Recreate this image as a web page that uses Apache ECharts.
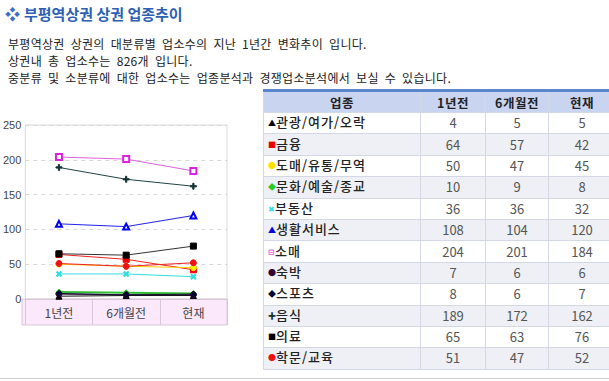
<!DOCTYPE html>
<html>
<head>
<meta charset="utf-8">
<script src="https://cdn.jsdelivr.net/npm/echarts@6/dist/echarts.min.js"></script>
<style>
  html, body { margin:0; padding:0; width:609px; height:381px; overflow:hidden; background:#fff;
    font-family:"Noto Sans CJK KR", "Noto Sans", sans-serif; }
  #title { position:absolute; left:5px; top:3px; font-size:15px; font-weight:bold; color:#2d5fb5; white-space:nowrap; }
  #title .dia { color:#3a6fc8; font-size:15px; margin-right:4px; }
  .desc { position:absolute; left:8px; font-size:12px; color:#222; white-space:nowrap; line-height:14px;
    letter-spacing:0.3px; word-spacing:3px; }
  #chart { position:absolute; left:0; top:100px; width:262px; height:240px; }
  #tbl { position:absolute; left:263px; top:89px; width:352px; border-collapse:collapse; table-layout:fixed;
    border-top:3px solid #5b87cf; font-size:13px; }
  #tbl th { background:#c9d4f0; height:20px; font-weight:bold; color:#222; font-size:12.5px; border:1px solid #d3d8e4; border-top:none; padding:0; letter-spacing:0.5px; }
  #tbl td { height:20.4px; border:1px solid #d3d8e4; padding:0; color:#555; text-align:center; line-height:18px; }
  #tbl td.nm { text-align:left; color:#222; padding-left:4px; white-space:nowrap; letter-spacing:1px; font-weight:500; }
  #tbl tr.alt td { background:#eef0f6; }
  #tbl .ic { font-size:8px; margin-right:0px; letter-spacing:0; position:relative; top:-1px; }
  #bottomline { position:absolute; left:0; top:378px; width:609px; height:1px; background:#cfcfcf; }
</style>
</head>
<body>
<div id="title"><span class="dia">❖</span>부평역상권 상권 업종추이</div>
<div class="desc" style="top:37px">부평역상권 상권의 대분류별 업소수의 지난 1년간 변화추이 입니다.</div>
<div class="desc" style="top:54px">상권내 총 업소수는 826개 입니다.</div>
<div class="desc" style="top:71px">중분류 및 소분류에 대한 업소수는 업종분석과 경쟁업소분석에서 보실 수 있습니다.</div>
<div id="chart"></div>
<table id="tbl">
  <colgroup><col style="width:157px"><col style="width:65px"><col style="width:63px"><col style="width:67px"></colgroup>
  <thead><tr id="hdr"></tr></thead>
  <tbody id="tb"></tbody>
</table>
<div id="bottomline"></div>
<script>
// ---- data ----
const periods = ['1년전', '6개월전', '현재'];
const headerLabels = ['업종', '1년전', '6개월전', '현재'];
const yTicks = [0, 50, 100, 150, 200, 250];
const categories = ['관광/여가/오락', '금융', '도매/유통/무역', '문화/예술/종교', '부동산', '생활서비스', '소매', '숙박', '스포츠', '음식', '의료', '학문/교육'];
const vTourism   = [4, 5, 5];
const vFinance   = [64, 57, 42];
const vWholesale = [50, 47, 45];
const vCulture   = [10, 9, 8];
const vRealty    = [36, 36, 32];
const vLiving    = [108, 104, 120];
const vRetail    = [204, 201, 184];
const vLodging   = [7, 6, 6];
const vSports    = [8, 6, 7];
const vFood      = [189, 172, 162];
const vMedical   = [65, 63, 76];
const vEducation = [51, 47, 52];
const seriesValues = [vTourism, vFinance, vWholesale, vCulture, vRealty, vLiving, vRetail, vLodging, vSports, vFood, vMedical, vEducation];

// ---- styles ----
const plusPath = 'path://M4,0H6V4H10V6H6V10H4V6H0V4H4Z';
const styles = [
  { line:'#111111', sym:'triangle', fill:'#000000', icon:'▲', ic:'#000' },
  { line:'#ee2222', sym:'rect', fill:'#ee0000', icon:'■', ic:'#e00' },
  { line:'#ffcc00', sym:'circle', fill:'#ffee00', icon:'●', ic:'#ffe000' },
  { line:'#33bb33', sym:'diamond', fill:'#22cc22', icon:'◆', ic:'#2c2', w:2 },
  { line:'#33dddd', sym:plusPath, rot:45, fill:'#33dddd', icon:'✖', ic:'#3dd' },
  { line:'#2222ee', sym:'emptyTriangle', fill:'#0000ee', icon:'▲', ic:'#00d' },
  { line:'#e060e0', sym:'emptyRect', fill:'#dd22dd', icon:'⊟', ic:'#d2d' },
  { line:'#331133', sym:'circle', fill:'#330033', icon:'●', ic:'#303' },
  { line:'#111133', sym:'diamond', fill:'#000033', icon:'◆', ic:'#003' },
  { line:'#224444', sym:plusPath, fill:'#113333', icon:'✚', ic:'#133' },
  { line:'#333333', sym:'rect', fill:'#000000', icon:'■', ic:'#000' },
  { line:'#ee2222', sym:'circle', fill:'#ee1111', icon:'●', ic:'#e11' }
];

// ---- table ----
const hdr = document.getElementById('hdr');
headerLabels.forEach(h => { const th = document.createElement('th'); th.textContent = h; hdr.appendChild(th); });
const tb = document.getElementById('tb');
categories.forEach((c, i) => {
  const tr = document.createElement('tr');
  if (i % 2 === 1) tr.className = 'alt';
  const td = document.createElement('td'); td.className = 'nm';
  td.innerHTML = '<span class="ic" style="color:' + styles[i].ic + '">' + styles[i].icon + '</span>' + c;
  tr.appendChild(td);
  seriesValues[i].forEach(v => { const d = document.createElement('td'); d.textContent = v; tr.appendChild(d); });
  tb.appendChild(tr);
});

// ---- chart ----
const gridL = 22, gridT = 25, gridW = 205, gridH = 174, bandH = 26;
const chart = echarts.init(document.getElementById('chart'), null, { renderer: 'svg' });
chart.setOption({
  animation: false,
  grid: { left: gridL, top: gridT, width: gridW, height: gridH, show: true, borderColor: '#d8d8d8', borderWidth: 1 },
  graphic: [{ type: 'rect', z: -1, shape: { x: gridL, y: gridT + gridH, width: gridW, height: bandH },
              style: { fill: '#fbe9fb', stroke: '#d9c6d9', lineWidth: 1 } }],
  xAxis: {
    type: 'category', data: periods, boundaryGap: true,
    axisLine: { show: true, lineStyle: { color: '#d9c6d9' } },
    axisTick: { show: true, length: bandH, interval: 0, lineStyle: { color: '#d9c6d9' } },
    axisLabel: { color: '#444', fontSize: 12, margin: 7, fontFamily: 'Noto Sans CJK KR' },
    splitLine: { show: false }
  },
  yAxis: {
    type: 'value', min: yTicks[0], max: yTicks[yTicks.length - 1], interval: 50,
    axisLine: { show: false }, axisTick: { show: false },
    axisLabel: { color: '#444', fontSize: 11, margin: 4, fontFamily: 'Liberation Sans' },
    splitLine: { show: true, lineStyle: { color: '#d8d8d8', type: [4, 4] } }
  },
  series: categories.map((c, i) => ({
    name: c, type: 'line', data: seriesValues[i],
    symbol: styles[i].sym, symbolSize: 6, symbolRotate: styles[i].rot || 0,
    showAllSymbol: true,
    lineStyle: { color: styles[i].line, width: styles[i].w || 1 },
    itemStyle: { color: styles[i].fill, borderColor: styles[i].fill, borderWidth: 1 },
    emphasis: { disabled: true }
  }))
});
</script>
</body>
</html>
